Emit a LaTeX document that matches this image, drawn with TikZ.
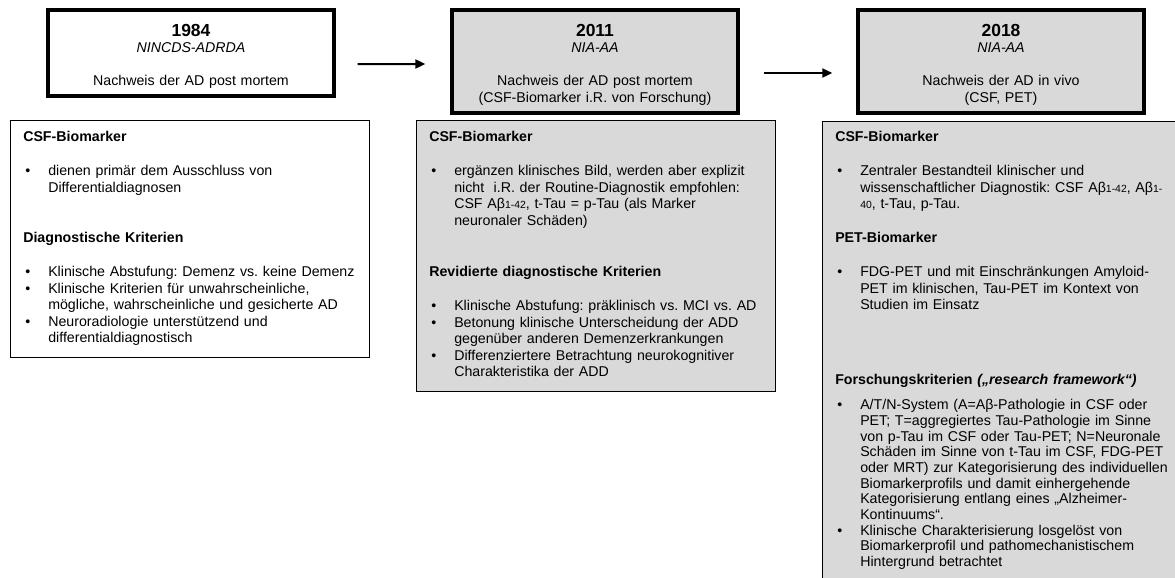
\documentclass[tikz,border=0pt]{standalone}
\usepackage{fontspec}
\setmainfont{Liberation Sans}
\usetikzlibrary{arrows.meta,calc,positioning}
\definecolor{Panel}{HTML}{D9D9D9}

\newcommand{\bodysize}{\fontsize{10.65pt}{12.4pt}\selectfont\frenchspacing}
\newcommand{\tightsize}{\fontsize{10.65pt}{11.75pt}\selectfont}
\newcommand{\yearsize}{\fontsize{13.1pt}{15pt}\selectfont\bfseries}
\newcommand{\sm}[1]{{\fontsize{7.8pt}{8pt}\selectfont #1}}
\newcommand{\bpt}[1]{\par\hangindent=18.75pt\hangafter=1\noindent\makebox[18.75pt][l]{\hspace{1.5pt}\textbullet}#1\par}

\tikzset{
  era/.style={draw,line width=3pt,minimum width=214pt,inner sep=0pt},
  eratext/.style={anchor=base,inner sep=0pt,text width=210pt,align=center,font=\bodysize},
  info/.style={draw,line width=1.1pt,anchor=north west,minimum width=269.25pt,inner sep=0pt},
  infotext/.style={anchor=base west,inner sep=0pt,text width=285pt,align=left,font=\bodysize},
  flow/.style={line width=1.5pt,-{Triangle[length=7.5pt,width=6.75pt]}}
}

\begin{document}
\begin{tikzpicture}[x=0.75pt,y=-0.75pt]
  \useasboundingbox (0,0) rectangle (1175,578);

  % top row
  \node[era,fill=white,minimum height=64pt] (b1984) at (191,53) {};
  \node[era,fill=Panel,minimum height=77pt] (b2011) at (595,61.7) {};
  \node[era,fill=Panel,minimum height=77pt] (b2018) at (1001,61.7) {};

  \node[eratext] (t1984) at ([shift={(0,27.7)}]b1984.north)
    {{\yearsize 1984}\\ \textit{NINCDS-ADRDA}\\[12.4pt] Nachweis der AD post mortem};
  \node[eratext] (t2011) at ([shift={(0,27.7)}]b2011.north)
    {{\yearsize 2011}\\ \textit{NIA-AA}\\[12.4pt] Nachweis der AD post mortem\\ (CSF-Biomarker i.R. von Forschung)};
  \node[eratext] (t2018) at ([shift={(0,27.7)}]b2018.north)
    {{\yearsize 2018}\\ \textit{NIA-AA}\\[12.4pt] Nachweis der AD in vivo\\ (CSF, PET)};

  \draw[flow] ([shift={(22,11)}]b1984.east) -- ([shift={(-25,2.3)}]b2011.west);
  \draw[flow] ([shift={(24,11.3)}]b2011.east) -- ([shift={(-24,11.3)}]b2018.west);

  % bottom row
  \node[info,fill=white,minimum height=177.75pt] (i1984) at (10,120) {};
  \node[info,fill=Panel,minimum height=203.25pt] (i2011) at (416,120) {};
  \node[info,fill=Panel,minimum height=344.25pt] (i2018) at (822,121) {};

  \node[infotext] (c1984) at ([shift={(13,21.5)}]i1984.north west) {%
    \textbf{CSF-Biomarker}\par\vspace{13.1pt}
    \bpt{dienen primär dem Ausschluss von\newline Differentialdiagnosen}\vspace{25.5pt}
    \textbf{Diagnostische Kriterien}\par\vspace{13.1pt}
    \bpt{Klinische Abstufung: Demenz vs. keine Demenz}
    \bpt{Klinische Kriterien für unwahrscheinliche,\newline mögliche, wahrscheinliche und gesicherte AD}
    \bpt{Neuroradiologie unterstützend und\newline differentialdiagnostisch}};

  \node[infotext] (c2011) at ([shift={(13,21.5)}]i2011.north west) {%
    \textbf{CSF-Biomarker}\par\vspace{13.1pt}
    \bpt{ergänzen klinisches Bild, werden aber explizit\newline nicht\ \ i.R. der Routine-Diagnostik empfohlen:\newline CSF Aβ\sm{1-42}, t-Tau = p-Tau (als Marker\newline neuronaler Schäden)}\vspace{26.2pt}
    \textbf{Revidierte diagnostische Kriterien}\par\vspace{13.1pt}
    \bpt{Klinische Abstufung: präklinisch vs. MCI vs. AD}
    \bpt{Betonung klinische Unterscheidung der ADD\newline gegenüber anderen Demenzerkrankungen}
    \bpt{Differenziertere Betrachtung neurokognitiver\newline Charakteristika der ADD}};

  \node[infotext] (c2018) at ([shift={(13,20.5)}]i2018.north west) {%
    \textbf{CSF-Biomarker}\par\vspace{13.1pt}
    \bpt{Zentraler Bestandteil klinischer und\newline wissenschaftlicher Diagnostik: CSF Aβ\sm{1-42}, Aβ\sm{1-}\newline \sm{40}, t-Tau, p-Tau.}\vspace{13.1pt}
    \textbf{PET-Biomarker}\par\vspace{13.1pt}
    \bpt{FDG-PET und mit Einschränkungen Amyloid-\newline PET im klinischen, Tau-PET im Kontext von\newline Studien im Einsatz}\vspace{43.5pt}
    \textbf{Forschungskriterien \textit{(„research framework“)}}\par\vspace{7.55pt}
    \tightsize
    \bpt{A/T/N-System (A=Aβ-Pathologie in CSF oder\newline PET; T=aggregiertes Tau-Pathologie im Sinne\newline von p-Tau im CSF oder Tau-PET; N=Neuronale\newline Schäden im Sinne von t-Tau im CSF, FDG-PET\newline oder MRT) zur Kategorisierung des individuellen\newline Biomarkerprofils und damit einhergehende\newline Kategorisierung entlang eines „Alzheimer-\newline Kontinuums“.}
    \bpt{Klinische Charakterisierung losgelöst von\newline Biomarkerprofil und pathomechanistischem\newline Hintergrund betrachtet}};
\end{tikzpicture}
\end{document}
